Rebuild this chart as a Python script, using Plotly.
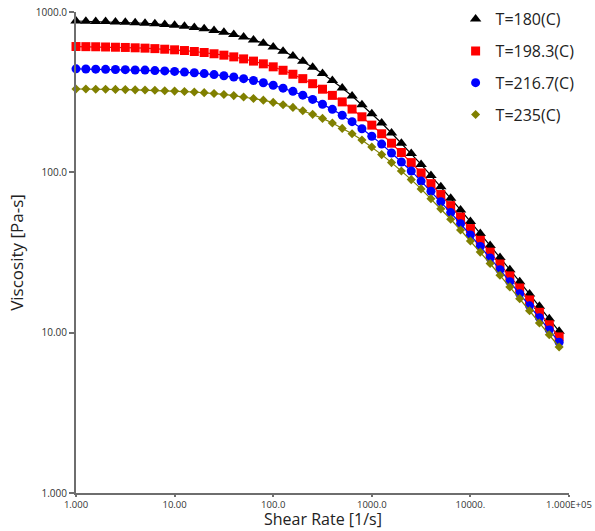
import plotly.graph_objects as go

# Shear rate [1/s]: 10 points per decade from 1 to ~7.9e4
shear_rate = [1.0, 1.2589, 1.5849, 1.9953, 2.5119, 3.1623, 3.9811, 5.0119, 6.3096, 7.9433,
              10.0, 12.589, 15.849, 19.953, 25.119, 31.623, 39.811, 50.119, 63.096, 79.433,
              100.0, 125.89, 158.49, 199.53, 251.19, 316.23, 398.11, 501.19, 630.96, 794.33,
              1000.0, 1258.9, 1584.9, 1995.3, 2511.9, 3162.3, 3981.1, 5011.9, 6309.6, 7943.3,
              10000.0, 12589.0, 15849.0, 19953.0, 25119.0, 31623.0, 39811.0, 50119.0, 63096.0, 79433.0]

visc_180 = [879, 876, 874, 871, 867, 863, 857, 851, 844, 836,
            826, 814, 801, 785, 767, 747, 724, 699, 670, 639,
            606, 570, 532, 493, 453, 413, 374, 336, 299, 264,
            232, 203, 176, 152, 131, 112, 95.5, 81.3, 68.9, 58.3,
            49.3, 41.6, 35.0, 29.4, 24.7, 20.8, 17.4, 14.6, 12.2, 10.2]

visc_198 = [609, 608, 607, 605, 603, 601, 598, 595, 591, 586,
            581, 575, 567, 559, 549, 538, 525, 510, 494, 475,
            455, 433, 409, 384, 357, 330, 302, 275, 248, 222,
            197, 174, 152, 133, 115, 99.1, 85.0, 72.7, 62.0, 52.6,
            44.6, 37.7, 31.8, 26.8, 22.6, 19.0, 16.0, 13.4, 11.2, 9.41]

visc_217 = [442, 441, 440, 439, 438, 437, 435, 434, 431, 429,
            426, 422, 418, 413, 407, 400, 393, 384, 374, 362,
            349, 335, 320, 303, 285, 266, 247, 227, 207, 187,
            168, 150, 132, 116, 102, 88.2, 76.2, 65.5, 56.1, 47.8,
            40.7, 34.5, 29.2, 24.7, 20.8, 17.5, 14.7, 12.4, 10.4, 8.72]

visc_235 = [331, 331, 330, 330, 329, 328, 327, 326, 325, 323,
            321, 319, 317, 314, 310, 306, 301, 295, 289, 282,
            273, 264, 254, 242, 230, 217, 203, 188, 174, 159,
            144, 129, 115, 102, 90.1, 78.8, 68.5, 59.2, 51.0, 43.7,
            37.3, 31.8, 27.0, 22.8, 19.3, 16.3, 13.7, 11.5, 9.7, 8.14]

series_names = ["T=180(C)", "T=198.3(C)", "T=216.7(C)", "T=235(C)"]
x_tickvals = [1, 10, 100, 1000, 10000, 100000]
x_ticktext = ["1.000", "10.00", "100.0", "1000.0", "10000.", "1.000E+05"]
y_tickvals = [1, 10, 100, 1000]
y_ticktext = ["1.000", "10.00", "100.0", "1000.0"]
x_title = "Shear Rate [1/s]"
y_title = "Viscosity [Pa-s]"

series = [visc_180, visc_198, visc_217, visc_235]
colors = ["#000000", "#ff0000", "#0000ff", "#808000"]
symbols = ["triangle-up", "square", "circle", "diamond"]
sizes = [10, 9, 9, 7]

fig = go.Figure()
for i, (name, y) in enumerate(zip(series_names, series)):
    fig.add_trace(go.Scatter(
        x=shear_rate, y=y, mode="lines", showlegend=False,
        line=dict(color=colors[i], width=1.2), cliponaxis=False, hoverinfo="skip"))
    fig.add_trace(go.Scatter(
        x=shear_rate, y=y, mode="markers", name=name, legendgroup=name,
        marker=dict(symbol=symbols[i], color=colors[i], size=sizes[i], line=dict(width=0)),
        cliponaxis=False))

axis_color = "#6e6e6e"
font_family = "Open Sans, Noto Sans, sans-serif"
tick_font = dict(family=font_family, size=10, color="#333333")
xtick_font = dict(family=font_family, size=9.5, color="#333333")
title_font = dict(family=font_family, size=17, color="#222222")
xtitle_font = dict(family=font_family, size=16, color="#222222")

fig.update_layout(
    width=595, height=531,
    margin=dict(l=76, r=26, t=12, b=38, autoexpand=False),
    paper_bgcolor="white", plot_bgcolor="white",
    legend=dict(
        x=0.770, y=1.0204, xanchor="left", yanchor="top",
        font=dict(family=font_family, size=16, color="#222222"),
        tracegroupgap=8, bgcolor="rgba(0,0,0,0)", itemwidth=30),
    xaxis=dict(
        type="log", range=[0, 5], tickvals=x_tickvals, ticktext=x_ticktext,
        showgrid=False, zeroline=False, showline=True, linecolor=axis_color, linewidth=2,
        ticks="outside", ticklen=2, tickcolor=axis_color, tickwidth=1.5, automargin=False,
        tickfont=xtick_font),
    yaxis=dict(
        type="log", range=[0, 3], tickvals=y_tickvals, ticktext=y_ticktext,
        showgrid=False, zeroline=False, showline=True, linecolor=axis_color, linewidth=2,
        ticks="outside", ticklen=5, tickcolor=axis_color, tickwidth=1.5, automargin=False,
        tickfont=tick_font, title=dict(text=y_title, font=title_font, standoff=8)),
    annotations=[dict(
        text=x_title, xref="paper", yref="paper", x=0.5, y=-0.0786,
        xanchor="center", yanchor="bottom", showarrow=False, font=xtitle_font,
        borderpad=0)],
)

fig.write_html("out.html")
